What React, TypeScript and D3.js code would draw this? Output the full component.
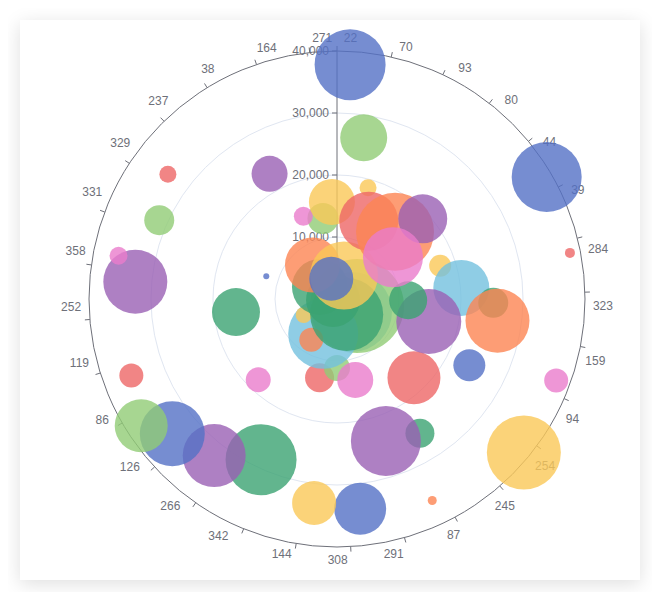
import * as d3 from "d3";

// angle axis categories, clockwise from the top
const angleLabels = [
  "22", "70", "93", "80", "44", "39", "284", "323", "159", "94",
  "254", "245", "87", "291", "308", "144", "342", "266", "126", "86",
  "119", "252", "358", "331", "329", "237", "38", "164", "271",
];

const radiusTicks = [0, 10000, 20000, 30000, 40000];

const palette = [
  "#5470c6", "#91cc75", "#fac858", "#ee6666", "#73c0de",
  "#3ba272", "#fc8452", "#9a60b4", "#ea7ccc",
];

// [angle (deg), radius value, symbol size, colour group]
const points: [number, number, number, number][] = [
  [3.2, 37850, 71, 0],
  [9.4, 26370, 47, 1],
  [59.8, 39130, 70, 0],
  [78.8, 38300, 10, 3],
  [110.4, 37720, 24, 8],
  [129.4, 39000, 74, 2],
  [154.7, 35950, 9, 6],
  [173.7, 34050, 52, 0],
  [186.4, 33110, 44, 2],
  [205.3, 28660, 71, 5],
  [218.1, 32100, 63, 7],
  [230.7, 34330, 65, 0],
  [237.1, 37610, 53, 1],
  [249.6, 35390, 24, 3],
  [274.9, 32650, 64, 7],
  [281.2, 35920, 18, 8],
  [293.9, 31360, 30, 1],
  [306.4, 33890, 17, 3],
  [331.7, 22940, 36, 7],
  [262.6, 16430, 48, 5],
  [287.8, 11980, 6, 0],
  [224.3, 18190, 25, 8],
  [148.3, 25450, 29, 5],
  [161.0, 24220, 70, 7],
  [116.6, 23870, 32, 0],
  [135.7, 17770, 53, 3],
  [192.5, 13000, 29, 3],
  [180.0, 11130, 26, 1],
  [167.3, 13390, 36, 8],
  // middle
  [131.0, 3200, 80, 4],
  [109.3, 3420, 94, 1],
  [201.6, 6040, 70, 4],
  [212.3, 7760, 24, 6],
  [244.3, 5960, 16, 2],
  [305.2, 3360, 56, 5],
  [256.0, 660, 54, 5],
  [148.0, 2950, 73, 5],
  [324.2, 6760, 55, 6],
  [16.6, 3960, 68, 2],
  // right of centre
  [72.1, 17490, 22, 2],
  [84.9, 20130, 56, 4],
  [91.4, 25210, 30, 5],
  [97.7, 26120, 64, 6],
  [103.8, 15240, 65, 7],
  [91.0, 11480, 38, 5],
  // above centre
  [350.1, 13180, 31, 1],
  [337.9, 14420, 19, 8],
  [357.0, 15670, 46, 2],
  [15.6, 18620, 17, 2],
  [22.2, 13550, 59, 3],
  [40.8, 14330, 78, 6],
  [46.9, 18940, 49, 7],
  [53.3, 11260, 60, 8],
  [344.2, 3390, 44, 0],
];

const width = 620;
const height = 560;
const cx = 317;
const cy = 279;
const outerR = 248;
const step = 360 / 28.5;
const labelShift = 3;
const axisColor = "#6E7079";
const font = "'Liberation Sans', Arial, sans-serif";

export default function App() {
  const rScale = d3.scaleLinear().domain([0, 40000]).range([0, outerR]);
  const rad = d3.scaleLinear().domain([0, 360]).range([0, 2 * Math.PI]);
  const tickAngle = d3.scaleLinear().domain([0, 1]).range([0, step]);
  const color = d3.scaleOrdinal<number, string>().domain(d3.range(9)).range(palette);
  const fmt = d3.format(",");

  const polar = (deg: number, dist: number) => [
    cx + dist * Math.sin(rad(deg)),
    cy - dist * Math.cos(rad(deg)),
  ];

  const splitRadii = radiusTicks.slice(1, -1);

  return (
    <div style={{ padding: 12 }}>
      <div
        style={{
          width,
          height,
          background: "#fff",
          boxShadow: "0 4px 18px rgba(0,0,0,0.13)",
        }}
      >
        <svg width={width} height={height} style={{ display: "block" }}>
          {/* split circles */}
          {splitRadii.map((t) => (
            <circle key={t} cx={cx} cy={cy} r={rScale(t)} fill="none" stroke="#E0E6F1" />
          ))}

          {/* angle axis */}
          <circle cx={cx} cy={cy} r={outerR} fill="none" stroke={axisColor} />
          {angleLabels.map((_, k) => {
            const [x1, y1] = polar(tickAngle(k), outerR);
            const [x2, y2] = polar(tickAngle(k), outerR + 5);
            return <line key={k} x1={x1} y1={y1} x2={x2} y2={y2} stroke={axisColor} />;
          })}
          {angleLabels.map((lab, k) => {
            const [x, y] = polar(tickAngle(k) + labelShift, outerR + 8);
            const anchor =
              Math.abs(x - cx) / outerR < 0.3 ? "middle" : x > cx ? "start" : "end";
            const dy =
              Math.abs(y - cy) / outerR < 0.3 ? "0.35em" : y > cy ? "0.75em" : "-0.1em";
            return (
              <text
                key={lab + k}
                x={x}
                y={y}
                dy={dy}
                textAnchor={anchor}
                fontSize={12}
                fontFamily={font}
                fill={axisColor}
              >
                {lab}
              </text>
            );
          })}

          {/* radius axis */}
          <line x1={cx} y1={cy} x2={cx} y2={cy - outerR} stroke={axisColor} />
          {radiusTicks.map((t) => (
            <g key={t} transform={`translate(${cx}, ${cy - rScale(t)})`}>
              <line x1={-5} x2={0} stroke={axisColor} />
              <text
                x={-8}
                dy="0.35em"
                textAnchor="end"
                fontSize={12}
                fontFamily={font}
                fill={axisColor}
              >
                {fmt(t)}
              </text>
            </g>
          ))}

          {/* bubbles */}
          {points.map((d, i) => {
            const [x, y] = polar(d[0], rScale(d[1]));
            return (
              <circle
                key={i}
                cx={x}
                cy={y}
                r={d[2] / 2}
                fill={color(d[3])}
                fillOpacity={0.8}
              />
            );
          })}
        </svg>
      </div>
    </div>
  );
}
